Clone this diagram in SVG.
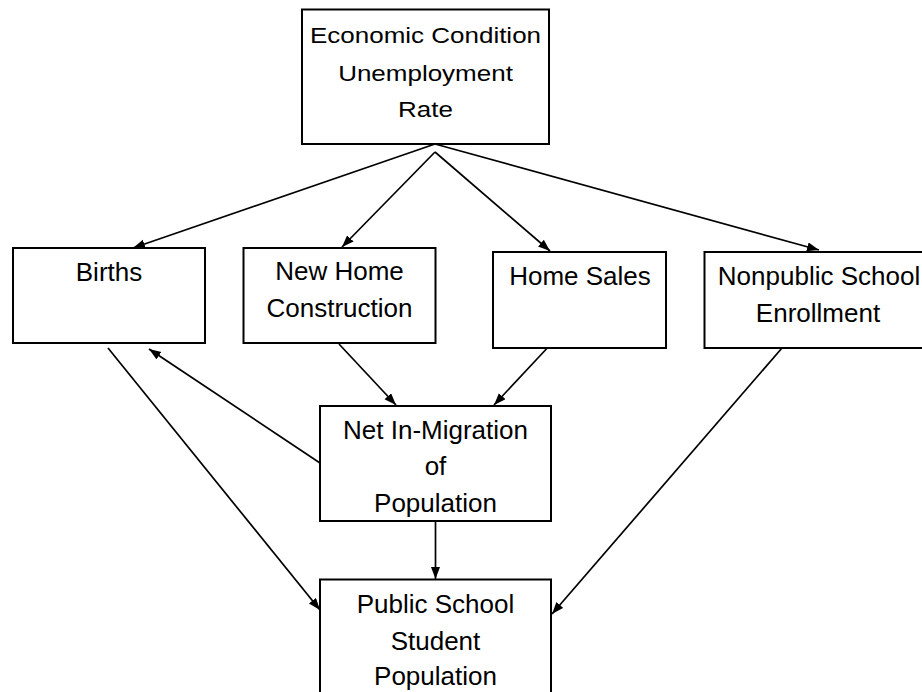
<svg xmlns="http://www.w3.org/2000/svg" width="922" height="692" viewBox="0 0 922 692">
  <style>
    .box { fill: #ffffff; stroke: #000000; stroke-width: 2; }
    .lbl { font-family: "Liberation Sans", Arial, sans-serif; font-size: 26px; fill: #000000; text-anchor: middle; }
    .edge { stroke: #000000; stroke-width: 1.7; fill: none; marker-end: url(#arrow); }
  </style>
  <defs>
    <marker id="arrow" markerUnits="userSpaceOnUse" markerWidth="14" markerHeight="10" refX="12" refY="4.5" orient="auto">
      <path d="M0,0 L12,4.5 L0,9 Z" fill="#000000"/>
    </marker>
  </defs>
  <rect width="922" height="692" fill="#ffffff"/>

  <!-- connectors -->
  <g id="connectors">
    <line class="edge" x1="435" y1="144" x2="133" y2="248"/>
    <line class="edge" x1="435" y1="152" x2="342" y2="247"/>
    <line class="edge" x1="435" y1="152" x2="550" y2="251"/>
    <line class="edge" x1="435" y1="144" x2="819" y2="250"/>
    <line class="edge" x1="108" y1="348" x2="320" y2="610"/>
    <line class="edge" x1="320" y1="463" x2="149" y2="349"/>
    <line class="edge" x1="339" y1="344" x2="396" y2="405"/>
    <line class="edge" x1="551" y1="344" x2="494" y2="405"/>
    <line class="edge" x1="435.5" y1="521" x2="435.5" y2="579"/>
    <line class="edge" x1="782" y1="348" x2="552" y2="614"/>
  </g>

  <!-- nodes -->
  <g id="economic-condition">
    <rect class="box" x="302" y="9.5" width="247" height="134.5"/>
    <g transform="translate(425.5 0) scale(1 0.86)">
      <text class="lbl" x="0" y="49.5">Economic Condition</text>
      <text class="lbl" x="0" y="94">Unemployment</text>
      <text class="lbl" x="0" y="136">Rate</text>
    </g>
  </g>

  <g id="births">
    <rect class="box" x="13" y="248" width="192" height="95"/>
    <text class="lbl" x="109" y="281">Births</text>
  </g>

  <g id="new-home-construction">
    <rect class="box" x="243.5" y="248" width="192" height="95"/>
    <text class="lbl" x="339.5" y="280">New Home</text>
    <text class="lbl" x="339.5" y="317">Construction</text>
  </g>

  <g id="home-sales">
    <rect class="box" x="493" y="252" width="173" height="96"/>
    <text class="lbl" x="580" y="285">Home Sales</text>
  </g>

  <g id="nonpublic-school-enrollment">
    <rect class="box" x="704.5" y="252" width="230" height="96"/>
    <text class="lbl" x="819" y="285">Nonpublic School</text>
    <text class="lbl" x="818" y="321.5">Enrollment</text>
  </g>

  <g id="net-in-migration">
    <rect class="box" x="320" y="406" width="231" height="115"/>
    <text class="lbl" x="435.5" y="438.5">Net In-Migration</text>
    <text class="lbl" x="435.5" y="475">of</text>
    <text class="lbl" x="435.5" y="511.5">Population</text>
  </g>

  <g id="public-school-student-population">
    <rect class="box" x="320" y="579.5" width="231" height="130"/>
    <text class="lbl" x="435.5" y="612.5">Public School</text>
    <text class="lbl" x="435.5" y="649.5">Student</text>
    <text class="lbl" x="435.5" y="685">Population</text>
  </g>
</svg>
